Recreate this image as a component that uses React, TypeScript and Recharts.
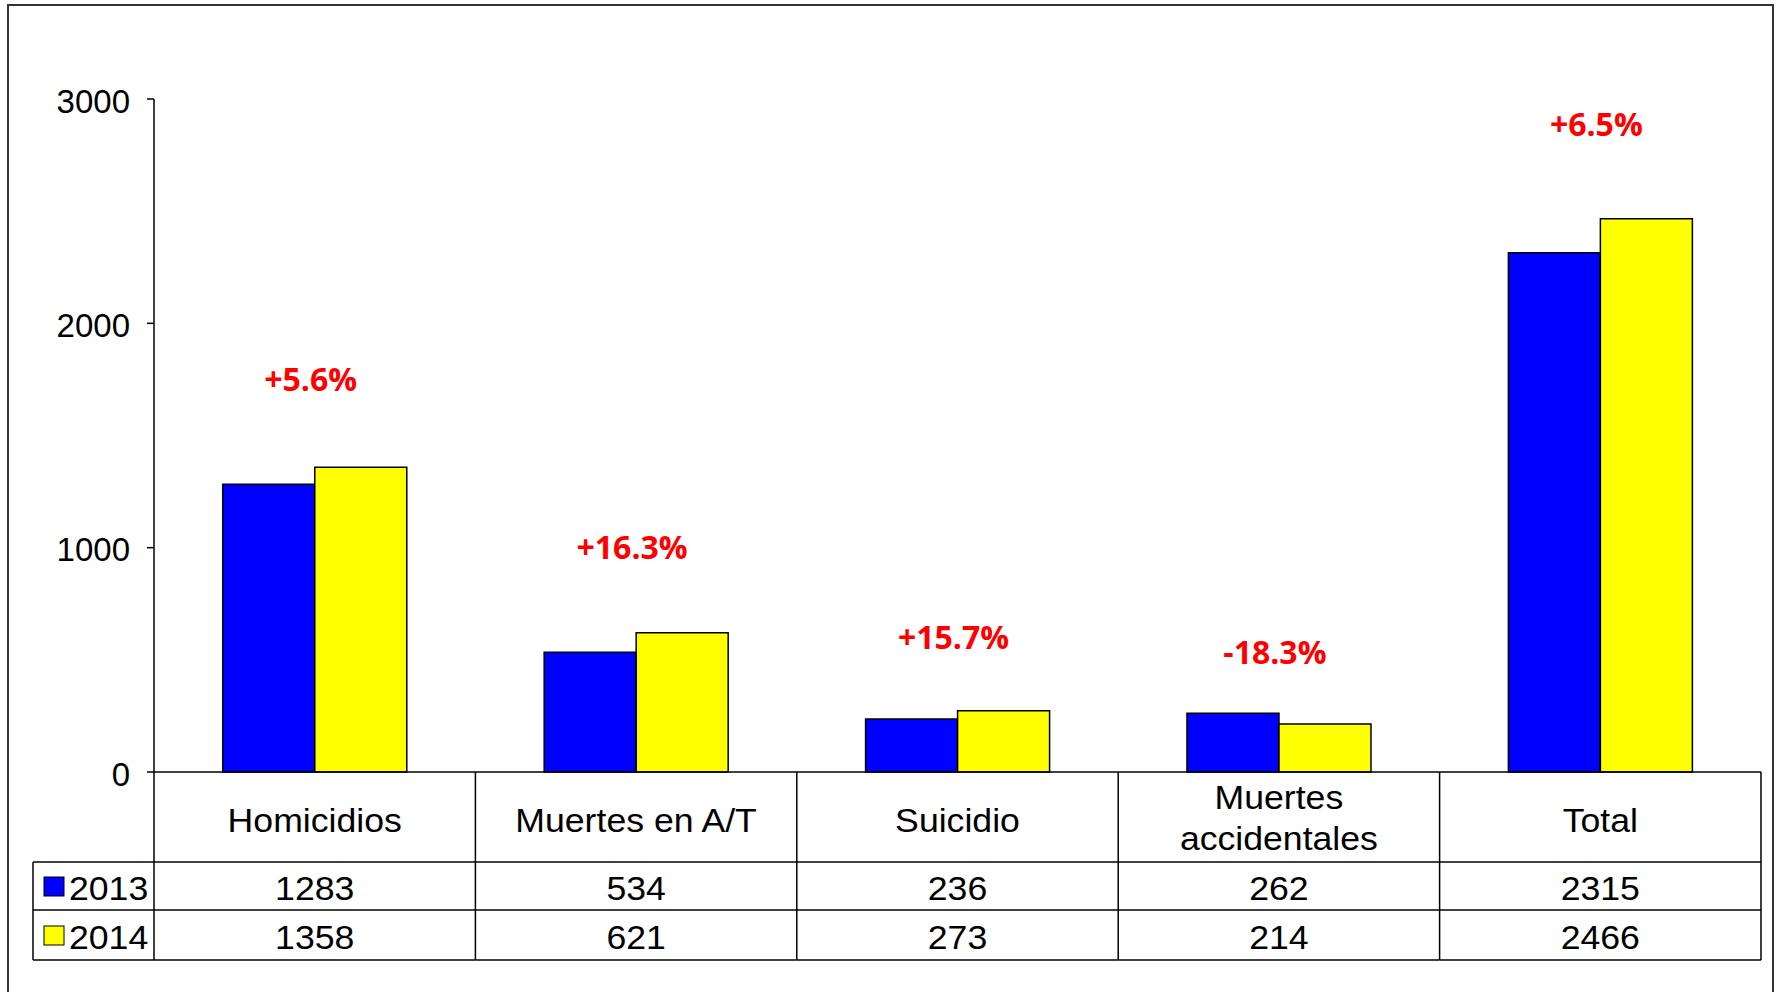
import { ComposedChart, Bar, Line, XAxis, YAxis, LabelList } from 'recharts';

// values
const categories = ['Homicidios', 'Muertes en A/T', 'Suicidio', 'Muertes\naccidentales', 'Total'];
const values2013 = [1283, 534, 236, 262, 2315];
const values2014 = [1358, 621, 273, 214, 2466];
const changeLabels = ['+5.6%', '+16.3%', '+15.7%', '-18.3%', '+6.5%'];
// height (in axis units) where each % label sits
const changeLabelY = [1752, 1007, 602, 539, 2893];
const yTicks = [0, 1000, 2000, 3000];
const seriesNames = ['2013', '2014'];
const seriesColors = ['#0000FF', '#FFFF00'];

const data = categories.map((c, i) => ({
    name: c,
    v2013: values2013[i],
    v2014: values2014[i],
    labelPos: changeLabelY[i],
    change: changeLabels[i]
}));

const W = 1779;
const H = 992;
const PLOT_LEFT = 154;
const PLOT_RIGHT = 1761;
const BAND = (PLOT_RIGHT - PLOT_LEFT) / categories.length;
const FONT = '"Liberation Sans", Arial, sans-serif';
const LINE = '#000';

// table text in the source is slightly stretched sideways
function Cell({ x, y, children, anchor = 'middle' }: any) {
    return (
        <text
            transform={`translate(${x},${y}) scale(1.08,1)`}
            textAnchor={anchor}
            dominantBaseline="central"
            fontSize={33}
            fontFamily={FONT}
            fill="#000"
        >
            {children}
        </text>
    );
}

function TableTick(props: any) {
    const { x, y, payload } = props;
    const i = payload.index;
    const left = x - BAND / 2;
    const right = x + BAND / 2;
    const lines = String(categories[i]).split('\n');
    const lineYs = lines.length === 1 ? [y + 48] : [y + 25, y + 66];
    return (
        <g>
            {i === 0 && (
                <g>
                    <line x1={left} x2={left} y1={y} y2={y + 188} stroke={LINE} strokeWidth={1.5} />
                    <line x1={33} x2={left} y1={y + 90} y2={y + 90} stroke={LINE} strokeWidth={1.5} />
                    <line x1={33} x2={left} y1={y + 138} y2={y + 138} stroke={LINE} strokeWidth={1.5} />
                    <line x1={33} x2={left} y1={y + 188} y2={y + 188} stroke={LINE} strokeWidth={1.5} />
                    <line x1={33} x2={33} y1={y + 90} y2={y + 188} stroke={LINE} strokeWidth={1.5} />
                    {seriesNames.map((s, k) => (
                        <g key={s}>
                            <rect x={44} y={y + 105 + k * 49} width={20} height={19} fill={seriesColors[k]} stroke="#000" strokeWidth={1} />
                            <Cell x={69} y={y + 116 + k * 49} anchor="start">{s}</Cell>
                        </g>
                    ))}
                </g>
            )}
            <line x1={right} x2={right} y1={y} y2={y + 188} stroke={LINE} strokeWidth={1.5} />
            <line x1={left} x2={right} y1={y + 90} y2={y + 90} stroke={LINE} strokeWidth={1.5} />
            <line x1={left} x2={right} y1={y + 138} y2={y + 138} stroke={LINE} strokeWidth={1.5} />
            <line x1={left} x2={right} y1={y + 188} y2={y + 188} stroke={LINE} strokeWidth={1.5} />
            {lines.map((t, k) => (
                <Cell key={k} x={x} y={lineYs[k]}>{t}</Cell>
            ))}
            <Cell x={x} y={y + 116}>{values2013[i]}</Cell>
            <Cell x={x} y={y + 165}>{values2014[i]}</Cell>
        </g>
    );
}

function ChangeLabel(props: any) {
    const { x, y, value } = props;
    return (
        <text x={x - 4} y={y} textAnchor="middle" dominantBaseline="central" fontSize={32} fontWeight={700} fontFamily='"Open Sans", sans-serif' fill="#FF0000">{value}</text>
    );
}

export default function App() {
    return (
        <div style={{ position: 'absolute', left: 0, top: 0, width: W, height: H, overflow: 'hidden', background: '#fff' }}>
            <div style={{ position: 'absolute', left: 7, top: 4, width: 1767, height: 1100, border: '2px solid #333', boxSizing: 'border-box' }} />
            <div style={{ position: 'absolute', left: 0, top: 0 }}>
                <ComposedChart width={W} height={H} data={data} margin={{ top: 99, right: W - PLOT_RIGHT, left: 0, bottom: 0 }} barCategoryGap="21.4%" barGap={0}>
                    <XAxis
                        dataKey="name"
                        height={220}
                        axisLine={{ stroke: '#000', strokeWidth: 1.5 }}
                        tickLine={false}
                        tickSize={0}
                        tickMargin={0}
                        interval={0}
                        tick={<TableTick />}
                    />
                    <YAxis
                        width={PLOT_LEFT}
                        domain={[0, 3000]}
                        ticks={yTicks}
                        axisLine={{ stroke: '#000', strokeWidth: 1.5 }}
                        tickLine={{ stroke: '#000', strokeWidth: 1.5 }}
                        tickSize={7}
                        tickMargin={17}
                        tick={{ fontSize: 33, fill: '#000', fontFamily: FONT, dy: 2 }}
                    />
                    <Bar dataKey="v2013" fill={seriesColors[0]} stroke="#000" strokeWidth={1.5} isAnimationActive={false} />
                    <Bar dataKey="v2014" fill={seriesColors[1]} stroke="#000" strokeWidth={1.5} isAnimationActive={false} />
                    <Line dataKey="labelPos" stroke="none" dot={false} activeDot={false} isAnimationActive={false}>
                        <LabelList dataKey="change" content={<ChangeLabel />} />
                    </Line>
                </ComposedChart>
            </div>
        </div>
    );
}
